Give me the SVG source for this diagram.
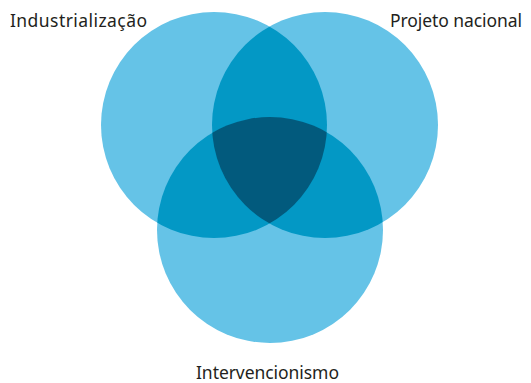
<svg xmlns="http://www.w3.org/2000/svg" width="531" height="383" viewBox="0 0 531 383">
<style>
.light{fill:#65C3E7}
.mid{fill:#0398C5}
.dark{fill:#025A7D}
.lbl{font-family:"Noto Sans","Open Sans","Liberation Sans",sans-serif;font-size:17.5px;fill:#231F20}
</style>
<defs>
<clipPath id="cA"><circle cx="214" cy="125" r="113"/></clipPath>
<clipPath id="cB"><circle cx="325" cy="125" r="113"/></clipPath>
</defs>
<g id="industrializacao">
<circle class="light" cx="214" cy="125" r="113"/>
<text class="lbl" x="10" y="27" textLength="137">Industrialização</text>
</g>
<g id="projeto-nacional">
<circle class="light" cx="325" cy="125" r="113"/>
<text class="lbl" x="390" y="27" textLength="132">Projeto nacional</text>
</g>
<g id="intervencionismo">
<circle class="light" cx="270" cy="230" r="113"/>
<text class="lbl" x="196" y="378.5" textLength="143">Intervencionismo</text>
</g>
<g id="intersections">
<circle class="mid" cx="325" cy="125" r="113" clip-path="url(#cA)"/>
<circle class="mid" cx="270" cy="230" r="113" clip-path="url(#cA)"/>
<circle class="mid" cx="270" cy="230" r="113" clip-path="url(#cB)"/>
<g clip-path="url(#cA)"><circle class="dark" cx="270" cy="230" r="113" clip-path="url(#cB)"/></g>
</g>
</svg>
